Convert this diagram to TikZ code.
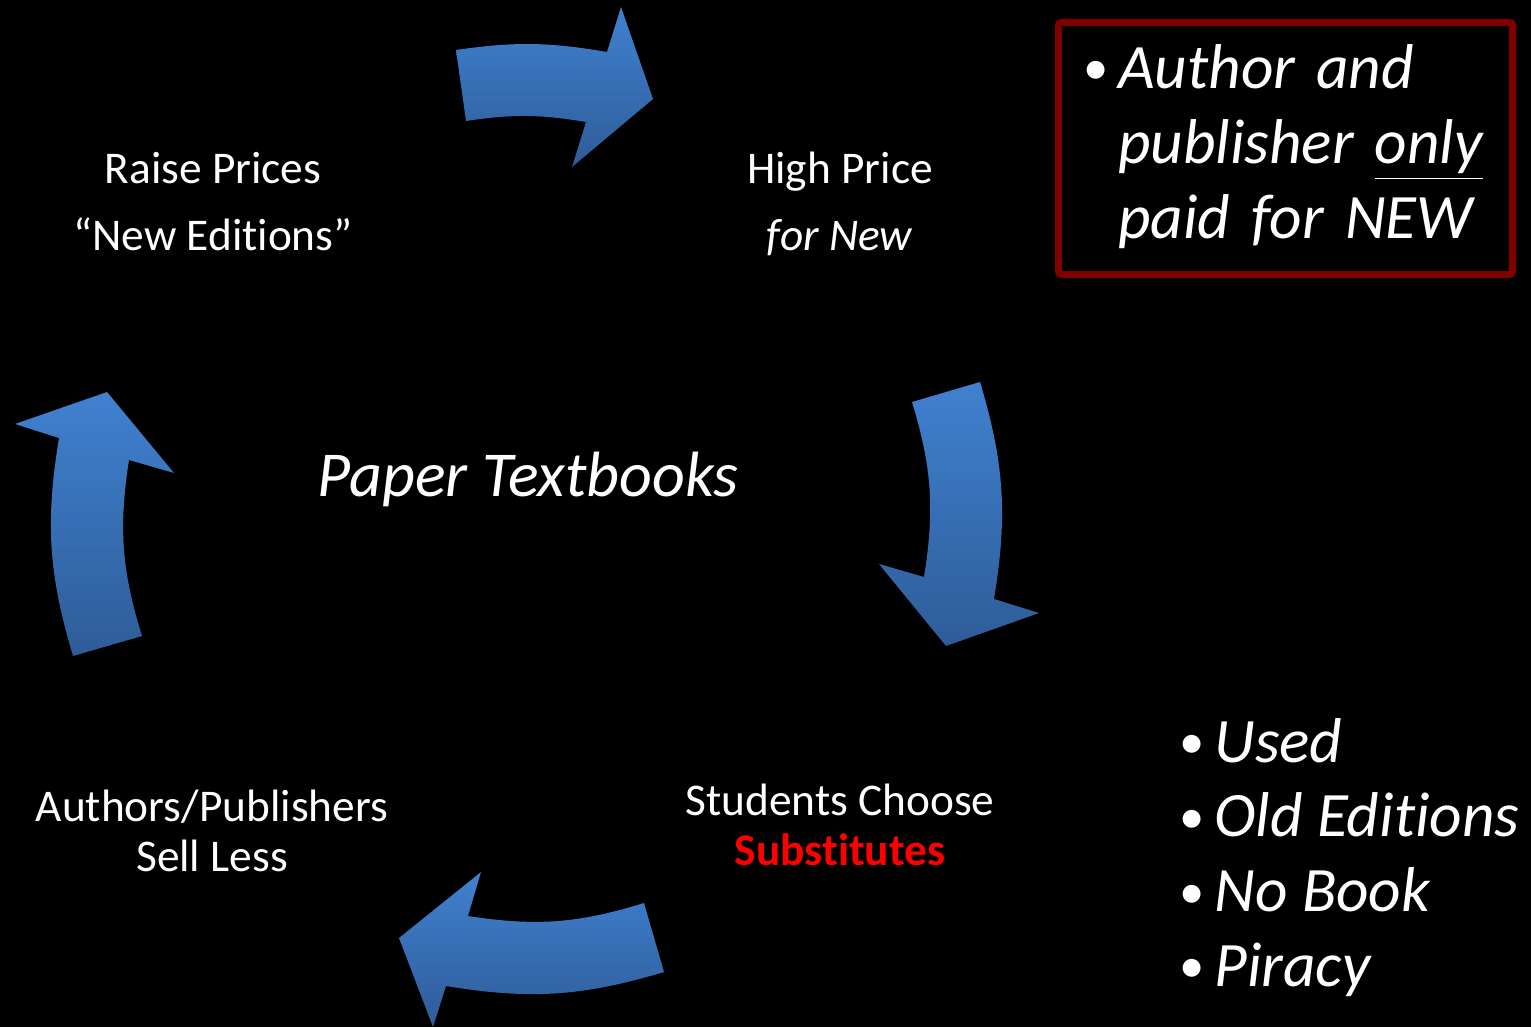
\documentclass[tikz,border=0pt]{standalone}
\usepackage{fontspec}
\usepackage{graphicx}
\setmainfont[Ligatures=NoCommon]{Carlito}
\definecolor{arrowtop}{RGB}{64,129,208}
\definecolor{arrowbot}{RGB}{46,92,152}
\definecolor{boxred}{RGB}{128,0,0}
\definecolor{subred}{RGB}{255,0,0}
\tikzset{
	cyclearrow/.style={top color=arrowtop, bottom color=arrowbot, draw=none},
	wide/.style={text=white, align=center, font=\fontsize{12.9}{19.3}\selectfont},
	tight/.style={text=white, align=center, font=\fontsize{12.9}{14}\selectfont},
	bullets/.style={text=white, font=\fontsize{18}{21.3}\selectfont\itshape}
}
\newcommand{\dotmark}{\raisebox{0.06em}{\scalebox{0.8}{\upshape\textbullet}}}
\newcommand{\bulletrows}[1]{\begin{tabular}[t]{@{}l@{\hspace{0.15em}}l@{}}#1\end{tabular}}
\begin{document}
\begin{tikzpicture}[x=0.01cm, y=0.01cm]
	\useasboundingbox (0,0) rectangle (1531,1027);
	\fill[black] (0,0) rectangle (1531,1027);
	% cycle arrows
	\shade[cyclearrow] (456,977) to[bend left=9] (607,975) -- (621,1020) -- (653,928) -- (572,860) -- (586,905) to[bend right=9] (466,906) -- cycle;
	\shade[cyclearrow] (980,645) to[bend left=13] (994,428) -- (1039,414) -- (946,381) -- (879,463) -- (924,450) to[bend right=13] (912,625) -- cycle;
	\shade[cyclearrow] (644,124) -- (664,55) to[bend left=13] (446,41) -- (433,0) -- (399,89) -- (481,155) -- (468,111) to[bend right=13] (644,124) -- cycle;
	\shade[cyclearrow] (73,371) -- (142,391) to[bend left=13] (129,567) -- (174,554) -- (107,635) -- (15,603) -- (59,589) to[bend right=13] (73,371) -- cycle;
	% labels
	\node[wide, anchor=base] (raise) at (213,776) {Raise Prices\\``New Editions''};
	\node[wide, anchor=base] (high) at (840,776) {High Price\\\textit{for New}};
	\node[text=white, anchor=base, font=\fontsize{18.2}{20}\selectfont\itshape] (paper) at (528,530) {Paper Textbooks};
	\node[tight, anchor=base] (sell) at (212,156) {Authors/Publishers\\Sell Less};
	\node[tight, anchor=base] (choose) at (840,162) {Students Choose\\\textcolor{subred}{\bfseries Substitutes}};
	% side notes
	\node[draw=boxred, line width=2pt, rounded corners=1pt, minimum width=4.54cm, minimum height=2.52cm, text width=4.04cm, inner xsep=0.25cm, inner ysep=0pt, align=left, bullets] (newonly) at (1285.5,878.5)
		{\bulletrows{\dotmark & Author and\\ & publisher \underline{only}\\ & paid for NEW}};
	\node[bullets, anchor=base west, inner sep=0pt] (subs) at (1179,265)
		{\bulletrows{\dotmark & Used\\ \dotmark & Old Editions\\ \dotmark & No Book\\ \dotmark & Piracy}};
\end{tikzpicture}
\end{document}
